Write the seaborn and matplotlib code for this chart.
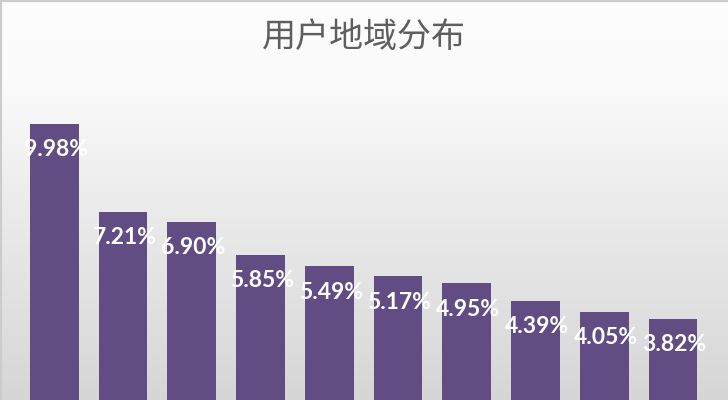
import matplotlib
matplotlib.use('Agg')
import numpy as np
import pandas as pd
import matplotlib.pyplot as plt
import seaborn as sns
from matplotlib.colors import LinearSegmentedColormap

sns.set_style("white")
plt.rcParams['font.family'] = ['Noto Sans CJK SC', 'DejaVu Sans']

# data
title = '用户地域分布'
ranks = ['1', '2', '3', '4', '5', '6', '7', '8', '9', '10']
shares = [9.98, 7.21, 6.90, 5.85, 5.49, 5.17, 4.95, 4.39, 4.05, 3.82]
labels = [f'{v:.2f}%' for v in shares]

df = pd.DataFrame({'rank': ranks, 'share': shares})

fig = plt.figure(figsize=(7.28, 4.0), dpi=100)

# background gradient (white at top to light gray at bottom)
bg = fig.add_axes([0, 0, 1, 1], zorder=0)
cmap = LinearSegmentedColormap.from_list(
    'bg', [(0.0, '#fdfdfd'), (0.2, '#fbfbfb'), (0.5, '#ececec'), (1.0, '#d6d6d6')])
grad = np.linspace(0, 1, 256).reshape(-1, 1)
bg.imshow(grad, cmap=cmap, aspect='auto', extent=[0, 1, 0, 1], origin='upper')
bg.set_xlim(0, 1)
bg.set_ylim(0, 1)
bg.set_xticks([])
bg.set_yticks([])
for side in ['right', 'bottom']:
    bg.spines[side].set_visible(False)
for side in ['top', 'left']:
    bg.spines[side].set_color('#cccccc')
    bg.spines[side].set_linewidth(3)

# bars
ax = fig.add_axes([0, 0, 1, 1], zorder=1)
ax.set_facecolor('none')
sns.barplot(data=df, x='rank', y='share', color='#614d84', saturation=1,
            width=0.71, linewidth=0, ax=ax)
ax.set_xlim(-0.79, 9.80)
ax.set_ylim(1.26, 13.9)
ax.axis('off')

for i, (v, lab) in enumerate(zip(shares, labels)):
    ax.text(i + 0.02, v - 0.82, lab, ha='center', va='center', color='white',
            fontsize=16.5, fontweight='bold', family=['Lato', 'DejaVu Sans'])

fig.text(0.5, 1 - 38 / 400, title, ha='center', va='center',
         fontsize=24.5, color='#5e5e5e', fontweight='light')

plt.savefig('out.png', dpi=100)
